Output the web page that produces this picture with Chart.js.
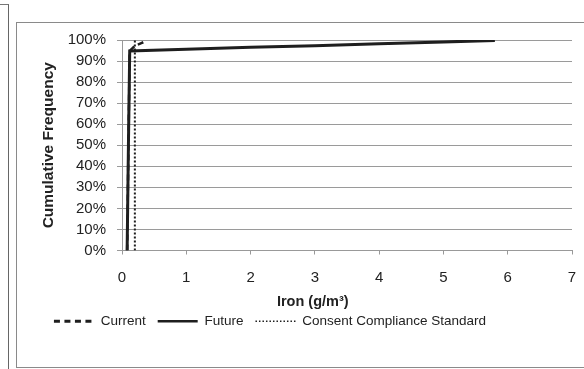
<!DOCTYPE html>
<html>
<head>
<meta charset="utf-8">
<script src="https://cdn.jsdelivr.net/npm/chart.js@4/dist/chart.umd.min.js"></script>
<style>
  html, body { margin: 0; padding: 0; background: #fff; }
  #wrap { position: relative; width: 584px; height: 369px; overflow: hidden; }
  #frame { position: absolute; left: 16px; top: 22px; width: 600px; height: 344px; border: 1px solid #8a8a8a; }
  #edge { position: absolute; left: 0; top: 4px; width: 8px; height: 400px; border-top: 1px solid #777; border-right: 1px solid #666; }
  canvas { position: absolute; left: 0; top: 0; }
</style>
</head>
<body>
<div id="wrap">
  <div id="edge"></div>
  <div id="frame"></div>
  <canvas id="chart" width="584" height="369"></canvas>
</div>
<script>
  // values (x in g/m3, y in cumulative %)
  const currentX = [0.08, 0.1, 0.12, 0.2, 0.3, 0.38];
  const currentY = [0, 50, 94.8, 97.2, 98.5, 99.6];
  const futureX = [0.08, 0.1, 0.12, 1, 2, 3, 4, 5, 5.8];
  const futureY = [0, 50, 94.8, 95.6, 96.5, 97.3, 98.2, 99.1, 99.8];
  const standardX = [0.2, 0.2];
  const standardY = [0, 100];
  const seriesNames = ["Current", "Future", "Consent Compliance Standard"];
  const xTicks = [0, 1, 2, 3, 4, 5, 6, 7];
  const yTicks = [0, 10, 20, 30, 40, 50, 60, 70, 80, 90, 100];

  function toPoints(xs, ys) {
    return xs.map((x, i) => ({ x: x, y: ys[i] }));
  }

  const family = "'Liberation Sans', Arial, sans-serif";
  const ink = "#1e1e1e";

  // the original's legend sits a little left of centre and higher than Chart.js puts it
  const nudgeLegend = {
    id: "nudgeLegend",
    afterLayout(chart) {
      const lg = chart.legend;
      lg.left -= 16; lg.right -= 16;
      lg.top -= 8; lg.bottom -= 8;
    },
  };

  new Chart(document.getElementById("chart"), {
    type: "scatter",
    data: {
      datasets: [
        {
          label: seriesNames[0],
          data: toPoints(currentX, currentY),
          showLine: true,
          borderColor: ink,
          borderWidth: 2.5,
          borderDash: [6, 4],
          pointRadius: 0,
          legendWidth: 3,
          legendDash: [6, 4.5],
        },
        {
          label: seriesNames[1],
          data: toPoints(futureX, futureY),
          showLine: true,
          borderColor: ink,
          borderWidth: 3,
          pointRadius: 0,
          legendWidth: 2.5,
          legendDash: [],
        },
        {
          label: seriesNames[2],
          data: toPoints(standardX, standardY),
          showLine: true,
          borderColor: ink,
          borderWidth: 2,
          borderDash: [2, 2],
          pointRadius: 0,
          legendWidth: 1.5,
          legendDash: [1.5, 2],
        },
      ],
    },
    options: {
      responsive: false,
      animation: false,
      layout: { padding: { left: 0, top: 40, right: 12, bottom: 23 } },
      scales: {
        x: {
          type: "linear",
          min: 0,
          max: 7,
          afterBuildTicks: (s) => { s.ticks = xTicks.map((v) => ({ value: v })); },
          afterFit: (s) => { s.height = 60; s.paddingLeft = 5; s.paddingRight = 5; },
          ticks: { color: "#222", font: { family: family, size: 15 }, padding: 14 },
          grid: { drawOnChartArea: false, drawTicks: true, tickLength: 4, color: "#999" },
          border: { color: "#999" },
          title: {
            display: true,
            text: "Iron (g/m³)" + "\u00a0".repeat(17),
            color: "#222",
            font: { family: family, size: 14.5, weight: "bold" },
            padding: { top: 0, bottom: 0 },
          },
        },
        y: {
          min: 0,
          max: 100,
          afterBuildTicks: (s) => { s.ticks = yTicks.map((v) => ({ value: v })); },
          afterFit: (s) => { s.width = 122; },
          ticks: { color: "#222", font: { family: family, size: 15 }, padding: 11, callback: (v) => v + "%" },
          grid: { color: "#9a9a9a", tickLength: 5 },
          border: { color: "#999" },
          title: {
            display: true,
            text: "Cumulative Frequency",
            color: "#222",
            font: { family: family, size: 15.5, weight: "bold" },
            padding: { top: 39, bottom: 0 },
          },
        },
      },
      plugins: {
        tooltip: { enabled: false },
        legend: {
          position: "bottom",
          labels: {
            color: "#222",
            font: { family: family, size: 13.5 },
            usePointStyle: true,
            pointStyle: "line",
            pointStyleWidth: 40,
            boxHeight: 14,
            padding: 12,
            generateLabels: (chart) => {
              const items = Chart.defaults.plugins.legend.labels.generateLabels(chart);
              items.forEach((it) => {
                const ds = chart.data.datasets[it.datasetIndex];
                it.lineDash = ds.legendDash;
                it.lineWidth = ds.legendWidth;
                it.pointStyle = "line";
              });
              return items;
            },
          },
        },
      },
    },
    plugins: [nudgeLegend],
  });
</script>
</body>
</html>
